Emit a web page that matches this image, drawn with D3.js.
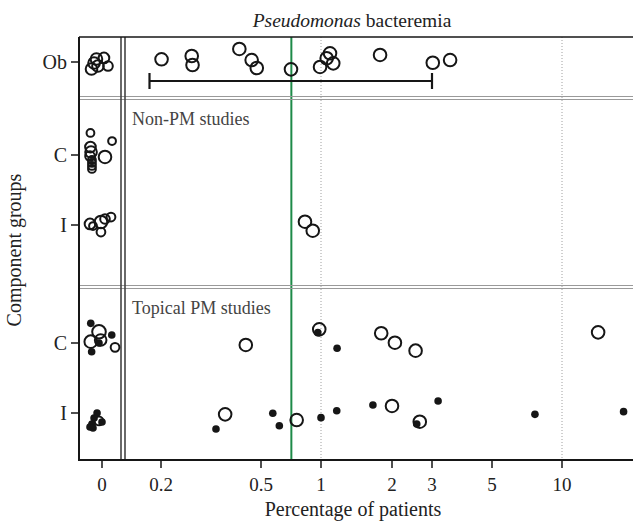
<!DOCTYPE html>
<html><head><meta charset="utf-8">
<script src="https://cdn.jsdelivr.net/npm/d3@7"></script>
<style>body{margin:0;background:#fff} svg{display:block}</style>
</head><body><svg id="chart" width="633" height="523"></svg>
<script>
// ---------------- data ----------------
const tickValues = [0.2, 0.5, 1, 2, 3, 5, 10];
const tickLabels = ["0.2", "0.5", "1", "2", "3", "5", "10"];
const zeroLabel = "0";
const gridValues = [1, 10];
const rowKeys = ["Ob", "nC", "nI", "tC", "tI"];
const rowLabels = ["Ob", "C", "I", "C", "I"];
const panelLabels = ["Non-PM studies", "Topical PM studies"];
const referenceValue = 0.71;
const obInterval = [0.18, 3.0];
// each point: [percentage, y-jitter, study size, filled (1) / open (0), x-jitter when 0]
const obPoints = [
  [0, 0.47, 51, 0, -0.70], [0, 0.07, 51, 0, -0.53], [0, -0.20, 51, 0, -0.37],
  [0, 0.27, 51, 0, -0.27], [0, -0.27, 43, 0, 0.13], [0, 0.27, 35, 0, 0.40],
  [0.201, -0.18, 60, 0, 0], [0.265, -0.40, 60, 0, 0], [0.267, 0.20, 60, 0, 0],
  [0.410, -0.87, 60, 0, 0], [0.459, -0.13, 60, 0, 0], [0.481, 0.40, 60, 0, 0],
  [0.707, 0.49, 60, 0, 0], [0.989, 0.33, 60, 0, 0], [1.057, -0.25, 60, 0, 0],
  [1.092, -0.58, 60, 0, 0], [1.127, 0.09, 60, 0, 0], [1.78, -0.47, 60, 0, 0],
  [3.02, 0.05, 60, 0, 0], [3.50, -0.13, 60, 0, 0]
];
const nonPmC = [
  [0, -1.47, 23, 0, -0.77], [0, -0.93, 23, 0, 0.67], [0, -0.53, 43, 0, -0.77],
  [0, -0.20, 51, 0, -0.73], [0, 0.07, 35, 0, -0.80], [0, 0.13, 60, 0, 0.20],
  [0, 0.33, 23, 0, -0.67], [0, 0.53, 23, 0, -0.67], [0, 0.73, 23, 0, -0.67],
  [0, 0.93, 23, 0, -0.67]
];
const nonPmI = [
  [0, -0.07, 43, 0, -0.80], [0, 0.07, 23, 0, -0.60], [0, -0.20, 60, 0, -0.07],
  [0, -0.40, 35, 0, 0.20], [0, -0.53, 29, 0, 0.60], [0, 0.47, 29, 0, -0.07],
  [0.831, -0.22, 60, 0, 0], [0.909, 0.38, 60, 0, 0]
];
const topicalC = [
  [0, -1.31, 0, 1, -0.75], [0, -0.75, 70, 0, -0.20], [0, -0.20, 51, 0, -0.09],
  [0, -0.09, 60, 0, -0.75], [0, -0.53, 0, 1, 0.65], [0, 0.58, 0, 1, -0.69],
  [0, 0.29, 29, 0, 0.87], [0, 0.00, 0, 1, -0.20],
  [0.435, 0.13, 60, 0, 0], [0.98, -0.91, 60, 0, 0], [0.964, -0.69, 0, 1, 0],
  [1.17, 0.35, 0, 1, 0], [1.80, -0.65, 60, 0, 0], [2.06, -0.02, 60, 0, 0],
  [2.54, 0.51, 60, 0, 0], [14.3, -0.71, 60, 0, 0]
];
const topicalI = [
  [0, 0.00, 0, 1, -0.33], [0, 0.33, 0, 1, -0.53], [0, 0.60, 0, 1, 0.00],
  [0, 0.73, 0, 1, -0.67], [0, 0.93, 0, 1, -0.80], [0, 1.00, 0, 1, -0.60],
  [0, 0.53, 29, 0, -0.20],
  [0.331, 1.07, 0, 1, 0], [0.360, 0.09, 60, 0, 0], [0.573, 0.02, 0, 1, 0],
  [0.618, 0.85, 0, 1, 0], [0.755, 0.47, 60, 0, 0], [1.00, 0.31, 0, 1, 0],
  [1.166, -0.15, 0, 1, 0], [1.66, -0.53, 0, 1, 0], [2.0, -0.47, 60, 0, 0],
  [2.57, 0.73, 0, 1, 0], [2.65, 0.58, 60, 0, 0], [3.16, -0.80, 0, 1, 0],
  [7.65, 0.09, 0, 1, 0], [18.4, -0.09, 0, 1, 0]
];
const rowData = { Ob: obPoints, nC: nonPmC, nI: nonPmI, tC: topicalC, tI: topicalI };

// ---------------- layout ----------------
const L = 79, R = 633, T = 37, B = 460;
const breakX = [121, 125];
const sepY = [98, 287];
const FONT = "'Liberation Serif','DejaVu Serif',serif";
const INK = "#161616";

const svg = d3.select("#chart");

// x: log-type axis with tick anchors, plus a separate zero strip
const xMain = d3.scaleLinear()
  .domain(tickValues.map(Math.log10))
  .range([161, 261, 321, 392, 432, 492, 562]);
const zeroScale = d3.scaleLinear().domain([-1, 1]).range([86, 116]);
const zeroX = zeroScale(0) + 1;
const xPos = (v, jx) => v === 0 ? zeroScale(jx) + 1 : xMain(Math.log10(v));

const yRow = d3.scaleOrdinal().domain(rowKeys).range([62, 155, 225, 343, 413]);
const jitter = d3.scaleLinear().domain([-1, 1]).range([-15, 15]);
const rScale = d3.scaleSqrt().domain([0, 60]).range([0, 6.3]);

// clip
svg.append("defs").append("clipPath").attr("id", "plot")
  .append("rect").attr("x", L).attr("y", T).attr("width", R - L).attr("height", B - T);

const g = svg.append("g").attr("clip-path", "url(#plot)");

// dotted grid
g.selectAll("line.grid").data(gridValues).join("line")
  .attr("x1", d => xMain(Math.log10(d))).attr("x2", d => xMain(Math.log10(d)))
  .attr("y1", T).attr("y2", B)
  .attr("stroke", "#a0a0a0").attr("stroke-width", 1).attr("stroke-dasharray", "1,2");

// reference (green)
g.append("line")
  .attr("x1", xMain(Math.log10(referenceValue))).attr("x2", xMain(Math.log10(referenceValue)))
  .attr("y1", T).attr("y2", B)
  .attr("stroke", "#1e8a48").attr("stroke-width", 2);

// separators (double grey)
sepY.forEach(y => {
  [-1.5, 1.5].forEach(o => {
    g.append("line").attr("x1", L).attr("x2", R).attr("y1", y + o).attr("y2", y + o)
      .attr("stroke", "#9a9a9a").attr("stroke-width", 1.2);
  });
});

// break lines
breakX.forEach(x => {
  g.append("line").attr("x1", x).attr("x2", x).attr("y1", T).attr("y2", B)
    .attr("stroke", "#444").attr("stroke-width", 1.6);
});

// interval bar
const ciY = yRow("Ob") + 19;
g.append("line").attr("x1", xMain(Math.log10(obInterval[0]))).attr("x2", xMain(Math.log10(obInterval[1])))
  .attr("y1", ciY).attr("y2", ciY).attr("stroke", INK).attr("stroke-width", 2.2);
obInterval.forEach(v => {
  g.append("line").attr("x1", xMain(Math.log10(v))).attr("x2", xMain(Math.log10(v)))
    .attr("y1", ciY - 8).attr("y2", ciY + 8).attr("stroke", INK).attr("stroke-width", 2.2);
});

// points
rowKeys.forEach(k => {
  const pts = rowData[k].map(p => ({ v: p[0], jy: p[1], n: p[2], filled: p[3], jx: p[4], row: k }));
  const open = pts.filter(p => !p.filled), fill = pts.filter(p => p.filled);
  g.selectAll(null).data(open).join("circle")
    .attr("cx", d => xPos(d.v, d.jx)).attr("cy", d => yRow(d.row) + jitter(d.jy))
    .attr("r", d => rScale(d.n)).attr("fill", "none").attr("stroke", INK).attr("stroke-width", 2);
  g.selectAll(null).data(fill).join("circle")
    .attr("cx", d => xPos(d.v, d.jx)).attr("cy", d => yRow(d.row) + jitter(d.jy))
    .attr("r", 3.8).attr("fill", INK);
});

// frame
svg.append("line").attr("x1", L).attr("x2", R).attr("y1", T).attr("y2", T).attr("stroke", INK).attr("stroke-width", 1.6);
svg.append("line").attr("x1", L).attr("x2", L).attr("y1", T).attr("y2", B + 1).attr("stroke", INK).attr("stroke-width", 2);
svg.append("line").attr("x1", L - 1).attr("x2", R).attr("y1", B).attr("y2", B).attr("stroke", INK).attr("stroke-width", 2);

// x ticks
const xt = [{ x: zeroX, t: zeroLabel }].concat(tickValues.map((v, i) => ({ x: xMain(Math.log10(v)), t: tickLabels[i] })));
svg.selectAll("line.xt").data(xt).join("line")
  .attr("x1", d => d.x).attr("x2", d => d.x).attr("y1", B).attr("y2", B + 8)
  .attr("stroke", INK).attr("stroke-width", 1.5);
svg.selectAll("text.xt").data(xt).join("text")
  .attr("x", d => d.x).attr("y", 491).attr("text-anchor", "middle")
  .attr("font-family", FONT).attr("font-size", 19).attr("fill", "#222").text(d => d.t);

// y ticks
svg.selectAll("line.yt").data(rowKeys).join("line")
  .attr("x1", L - 8).attr("x2", L).attr("y1", d => yRow(d)).attr("y2", d => yRow(d))
  .attr("stroke", INK).attr("stroke-width", 1.5);
svg.selectAll("text.yt").data(rowKeys).join("text")
  .attr("x", L - 12).attr("y", d => yRow(d) + 7).attr("text-anchor", "end")
  .attr("font-family", FONT).attr("font-size", 20).attr("fill", "#222")
  .text((d, i) => rowLabels[i]);

// panel labels
panelLabels.forEach((t, i) => {
  svg.append("text").attr("x", 132).attr("y", sepY[i] + 27)
    .attr("font-family", FONT).attr("font-size", 18).attr("fill", "#444").text(t);
});

// title
const title = svg.append("text").attr("x", 352).attr("y", 27).attr("text-anchor", "middle")
  .attr("font-family", FONT).attr("font-size", 19.5).attr("fill", "#222");
title.append("tspan").attr("font-style", "italic").text("Pseudomonas");
title.append("tspan").text(" bacteremia");

// axis titles
svg.append("text").attr("x", 353).attr("y", 516).attr("text-anchor", "middle")
  .attr("font-family", FONT).attr("font-size", 20).attr("fill", "#222").text("Percentage of patients");
svg.append("text").attr("transform", "translate(21,250) rotate(-90)").attr("text-anchor", "middle")
  .attr("font-family", FONT).attr("font-size", 20).attr("fill", "#222").text("Component groups");
</script></body></html>
